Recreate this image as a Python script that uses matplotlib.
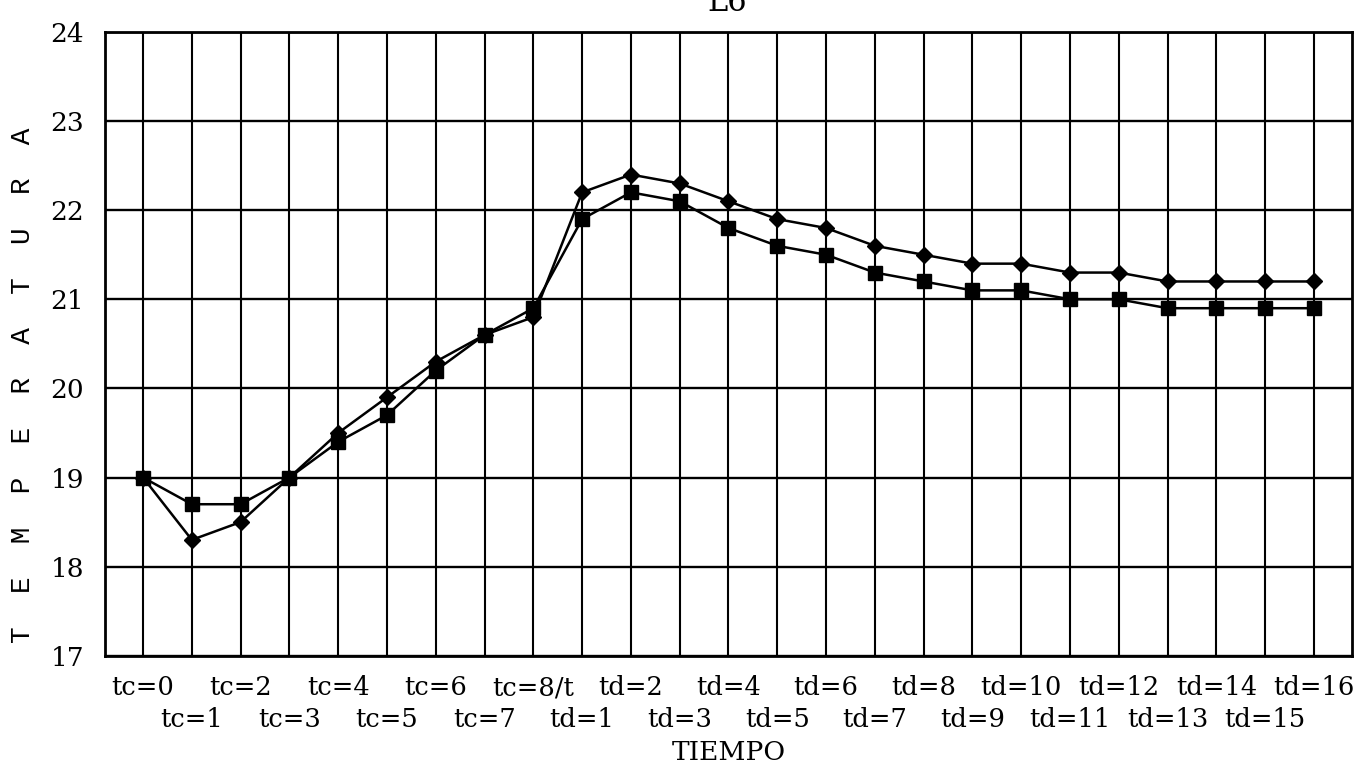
import matplotlib
matplotlib.use("Agg")
import matplotlib.pyplot as plt
import numpy as np

# Etiquetas del eje de tiempo: calentamiento (tc) y descenso (td)
labels = ['tc=0', 'tc=1', 'tc=2', 'tc=3', 'tc=4', 'tc=5', 'tc=6', 'tc=7', 'tc=8/t',
          'td=1', 'td=2', 'td=3', 'td=4', 'td=5', 'td=6', 'td=7', 'td=8',
          'td=9', 'td=10', 'td=11', 'td=12', 'td=13', 'td=14', 'td=15', 'td=16']

# Temperaturas de las dos series
temp_rombo = [19.0, 18.3, 18.5, 19.0, 19.5, 19.9, 20.3, 20.6, 20.8,
              22.2, 22.4, 22.3, 22.1, 21.9, 21.8, 21.6, 21.5,
              21.4, 21.4, 21.3, 21.3, 21.2, 21.2, 21.2, 21.2]
temp_cuadro = [19.0, 18.7, 18.7, 19.0, 19.4, 19.7, 20.2, 20.6, 20.9,
               21.9, 22.2, 22.1, 21.8, 21.6, 21.5, 21.3, 21.2,
               21.1, 21.1, 21.0, 21.0, 20.9, 20.9, 20.9, 20.9]

y_ticks = [17, 18, 19, 20, 21, 22, 23, 24]

x = np.arange(len(labels))

fig = plt.figure(figsize=(13.6, 7.67), dpi=100)
ax = fig.add_axes([0.0772, 0.1451, 0.9169, 0.8132])

ax.plot(x, temp_rombo, color='black', lw=1.8, marker='D', ms=8, zorder=3)
ax.plot(x, temp_cuadro, color='black', lw=1.8, marker='s', ms=10, zorder=3)

ax.set_xlim(-0.78, len(labels) - 1 + 0.78)
ax.set_ylim(17, 24)
ax.set_yticks(y_ticks)
ax.set_yticklabels([str(v) for v in y_ticks], family='DejaVu Serif', fontsize=19)

# etiquetas alternadas en dos filas
ax.set_xticks(x[::2])
ax.set_xticklabels(labels[::2], family='DejaVu Serif', fontsize=18.5)
ax.set_xticks(x[1::2], minor=True)
ax.set_xticklabels(labels[1::2], minor=True, family='DejaVu Serif', fontsize=18.5)
ax.tick_params(axis='x', which='major', length=0, pad=14)
ax.tick_params(axis='x', which='minor', length=0, pad=37)
ax.tick_params(axis='y', length=0, pad=15)

ax.grid(True, which='both', axis='x', color='black', lw=1.5)
ax.grid(True, which='major', axis='y', color='black', lw=1.7)
ax.set_axisbelow(True)
for s in ax.spines.values():
    s.set_linewidth(2)

ax.set_xlabel('TIEMPO', family='DejaVu Serif', fontsize=19, labelpad=6)
fig.text(0.017, 0.497, 'T  E  M  P  E  R  A  T  U  R  A', rotation=90,
         family='Liberation Mono', fontsize=20, ha='center', va='center')

# titulo cortado en el borde superior
fig.text(0.535, 0.986, 'L6', family='DejaVu Serif', fontsize=22,
         ha='center', va='baseline')

fig.savefig('out.png', dpi=100)
